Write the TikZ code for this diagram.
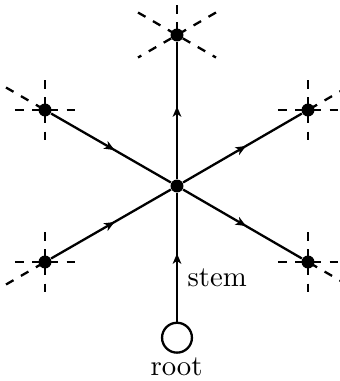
\documentclass[tikz,border=0pt]{standalone}
\usetikzlibrary{arrows.meta,decorations.markings,calc}
\begin{document}
\begin{tikzpicture}[x=0.348pt,y=0.348pt,
  dot/.style={circle,fill=black,inner sep=0pt,minimum size=4.5pt},
  rootnode/.style={circle,draw=black,thick,inner sep=0pt,minimum size=10.4pt},
  edge/.style={thick},
  dashline/.style={thick,dashed},
  midarrow/.style={thick,decoration={markings,mark=at position 0.53 with {\arrow{Stealth[length=3.6pt,width=3pt,inset=1pt]}}},postaction={decorate}}]
\useasboundingbox (0,0) rectangle (340,381);
% node positions
\coordinate (pc) at (177,195);
\coordinate (pt) at (177,346);
\coordinate (plu) at (45,271);
\coordinate (pru) at (308,271);
\coordinate (pll) at (45,119);
\coordinate (prr) at (308,119);
% dashed guide lines
\draw[dashline] ($(pt)+(150:45)$) -- ($(pt)+(330:45)$);
\draw[dashline] ($(pt)+(30:45)$) -- ($(pt)+(210:45)$);
\draw[dashline] ($(pt)+(90:30)$) -- (pt);
\foreach \p/\a in {plu/150,pru/30,pll/210,prr/330}{
  \draw[dashline] ($(\p)+(-30,0)$) -- ($(\p)+(30,0)$);
  \draw[dashline] ($(\p)+(0,30)$) -- ($(\p)+(0,-30)$);
  \draw[dashline] ($(\p)+(\a:45)$) -- (\p);
}
% nodes
\node[dot] (c) at (pc) {};
\node[dot] (t) at (pt) {};
\node[dot] (lu) at (plu) {};
\node[dot] (ru) at (pru) {};
\node[dot] (ll) at (pll) {};
\node[dot] (rr) at (prr) {};
\node[rootnode] (root) at (177,43.3) {};
% edges
\draw[midarrow] (root) -- (c);
\draw[midarrow] (c) -- (t);
\draw[midarrow] (lu) -- (c);
\draw[midarrow] (ll) -- (c);
\draw[midarrow] (c) -- (ru);
\draw[midarrow] (c) -- (rr);
% labels
\node[anchor=base west,inner sep=0pt] (stemlabel) at (187,95) {stem};
\node[anchor=base,inner sep=0pt] (rootlabel) at (176.5,5.5) {root};
\end{tikzpicture}
\end{document}
